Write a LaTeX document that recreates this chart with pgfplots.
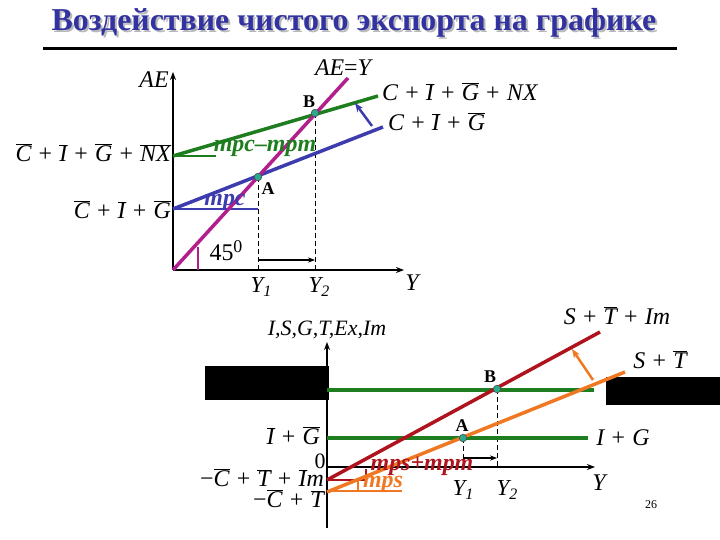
\documentclass[border=0pt]{standalone}
\usepackage{pgfplots}
\pgfplotsset{compat=1.18}
\usepackage{fontspec}
\setmainfont{Liberation Serif}
\usetikzlibrary{arrows.meta}

\definecolor{mag}{RGB}{178,30,140}
\definecolor{grn}{RGB}{30,125,30}
\definecolor{blu}{RGB}{60,60,175}
\definecolor{dred}{RGB}{175,20,30}
\definecolor{org}{RGB}{240,120,35}
\definecolor{pt}{RGB}{40,170,140}
\definecolor{ttl}{RGB}{50,50,160}

\newcommand{\ov}[1]{$\overline{\mbox{#1}}$}
\newcommand{\pl}{\hspace{0.3em}{\upshape+}\hspace{0.3em}}
\newcommand{\fs}[1]{\fontsize{#1}{#1}\selectfont}
\newcommand{\sub}[1]{\raisebox{-0.35ex}{\fs{16}#1}}

\begin{document}
\begin{tikzpicture}
\begin{axis}[
  scale only axis, width=720bp, height=540bp,
  xmin=0, xmax=720, ymin=0, ymax=540, y dir=reverse,
  hide axis, clip=false,
  every axis plot/.append style={mark=none},
]
% page frame
\addplot[draw=none] coordinates {(0,0) (720,540)};

% title
\node[text=gray!55, font=\bfseries\fs{32}] at (axis cs:356,25) {Воздействие чистого экспорта на графике};
\node[text=ttl, font=\bfseries\fs{32}] at (axis cs:354,23) {Воздействие чистого экспорта на графике};
\addplot[black, line width=3bp] coordinates {(43,48.5) (677,48.5)};

% ---------- upper graph: AE ----------
\addplot[black, line width=2.2bp, -{Stealth[length=8bp,width=6bp]}] coordinates {(173,270) (173,72)};
\addplot[black, line width=2.2bp, -{Stealth[length=8bp,width=6bp]}] coordinates {(173,270) (404,270)};

\addplot[black, dash pattern=on 5bp off 3bp, line width=0.8bp] coordinates {(258,177) (258,270)};
\addplot[black, dash pattern=on 5bp off 3bp, line width=0.8bp] coordinates {(315,113) (315,270)};
\addplot[black, line width=1.5bp, -{Stealth[length=7bp]}] coordinates {(258,260) (315,260)};

\addplot[blu, line width=2bp] coordinates {(173,209) (258,209)};
\addplot[grn, line width=2bp] coordinates {(173,156) (216,156)};
\addplot[mag, line width=1.5bp] coordinates {(198,247) (198,270)};

\addplot[blu, line width=3.5bp] coordinates {(173,209) (383,127)};
\addplot[grn, line width=3.5bp] coordinates {(173,156) (378,96)};
\addplot[mag, line width=3.5bp] coordinates {(173,270) (348,78)};
\addplot[blu, line width=2.5bp, -{Stealth[length=9bp,width=7bp]}] coordinates {(372,126) (355,103)};

\addplot[only marks, mark=*, mark size=3.8bp, mark options={fill=pt, draw=black!70, line width=0.6bp}] coordinates {(258,177) (315,113)};

\node[font=\itshape\fs{24}] at (axis cs:154,80) {AE};
\node[font=\itshape\fs{24}] at (axis cs:343,68) {AE{\upshape=}Y};
\node[font=\itshape\fs{24}, anchor=west, inner sep=0pt] at (axis cs:382,92) {C\pl\ov{I}\pl\ov{G}\pl NX};
\node[font=\itshape\fs{24}, anchor=west, inner sep=0pt] at (axis cs:388,122) {C\pl\ov{I}\pl\ov{G}};
\node[font=\itshape\fs{24}, anchor=east, inner sep=0pt] at (axis cs:171,153) {\ov{C}\pl\ov{I}\pl\ov{G}\pl\ov{NX}};
\node[font=\itshape\fs{24}, anchor=east, inner sep=0pt] at (axis cs:171,210) {\ov{C}\pl\ov{I}\pl\ov{G}};
\node[text=grn, font=\bfseries\itshape\fs{24}] at (axis cs:265,148) {mpc–mpm};
\node[text=blu, font=\bfseries\itshape\fs{24}] at (axis cs:225,202) {mpc};
\node[font=\bfseries\fs{18}] at (axis cs:268,189) {A};
\node[font=\bfseries\fs{18}] at (axis cs:309,102) {B};
\node[font=\fs{24}] at (axis cs:226,251) {45\raisebox{0.75ex}{\fs{18}0}};
\node[font=\itshape\fs{23}] at (axis cs:261,287) {Y\sub{1}};
\node[font=\itshape\fs{23}] at (axis cs:319,287) {Y\sub{2}};
\node[font=\itshape\fs{24}] at (axis cs:412,283) {Y};

% ---------- lower graph: leakages and injections ----------
\addplot[fill=black, draw=none] coordinates {(205,366) (329,366) (329,400) (205,400)} -- cycle;
\addplot[fill=black, draw=none] coordinates {(606,377) (720,377) (720,405) (606,405)} -- cycle;

\addplot[black, line width=2.2bp, -{Stealth[length=8bp,width=6bp]}] coordinates {(327,528) (327,342)};
\addplot[black, line width=2.2bp, -{Stealth[length=8bp,width=6bp]}] coordinates {(327,467) (595,467)};

\addplot[black, dash pattern=on 5bp off 3bp, line width=0.8bp] coordinates {(463,438) (463,467)};
\addplot[black, dash pattern=on 5bp off 3bp, line width=0.8bp] coordinates {(497,389) (497,467)};
\addplot[black, line width=1.5bp, -{Stealth[length=7bp]}] coordinates {(463,458) (497,458)};

\addplot[dred, line width=2bp] coordinates {(327,480) (366,480)};
\addplot[dred, line width=1.2bp] coordinates {(366,469) (366,480)};
\addplot[org, line width=2bp] coordinates {(327,491) (402,491)};
\addplot[org, line width=1.2bp] coordinates {(358,481) (358,491)};

\addplot[grn, line width=3.5bp] coordinates {(327,390) (594,390)};
\addplot[grn, line width=3.5bp] coordinates {(327,438) (588,438)};
\addplot[dred, line width=3.5bp] coordinates {(327,480) (600,332)};
\addplot[org, line width=3.5bp] coordinates {(327,492) (625,372)};
\addplot[org, line width=2.5bp, -{Stealth[length=9bp,width=7bp]}] coordinates {(593,380) (572,349)};

\addplot[only marks, mark=*, mark size=3.8bp, mark options={fill=pt, draw=black!70, line width=0.6bp}] coordinates {(463,438) (497,389)};

\node[font=\itshape\fs{22}] at (axis cs:327,330) {I,S,G,T,Ex,Im};
\node[font=\fs{22}] at (axis cs:320,461) {0};
\node[font=\itshape\fs{24}, anchor=east, inner sep=0pt] at (axis cs:320,436) {\ov{I}\pl\ov{G}};
\node[font=\itshape\fs{24}, anchor=east, inner sep=0pt] at (axis cs:324,478) {{\upshape−}\ov{C}\pl\ov{T}\pl\ov{I}m};
\node[font=\itshape\fs{24}, anchor=east, inner sep=0pt] at (axis cs:324,499) {{\upshape−}\ov{C}\pl\ov{T}};
\node[font=\itshape\fs{24}] at (axis cs:617,316) {S\pl\ov{T}\pl Im};
\node[font=\itshape\fs{24}] at (axis cs:660,360) {S\pl\ov{T}};
\node[font=\itshape\fs{24}] at (axis cs:623,438) {I\pl G};
\node[font=\bfseries\fs{18}] at (axis cs:462,426) {A};
\node[font=\bfseries\fs{18}] at (axis cs:490,377) {B};
\node[font=\itshape\fs{23}] at (axis cs:463,490) {Y\sub{1}};
\node[font=\itshape\fs{23}] at (axis cs:507,490) {Y\sub{2}};
\node[font=\itshape\fs{24}] at (axis cs:599,483) {Y};
\node[text=dred, font=\bfseries\itshape\fs{24}] at (axis cs:422,466) {mps+mpm};
\node[text=org, font=\bfseries\itshape\fs{24}] at (axis cs:383,484) {mps};
\node[font=\fs{12}] at (axis cs:651,505) {26};
\end{axis}
\end{tikzpicture}
\end{document}
